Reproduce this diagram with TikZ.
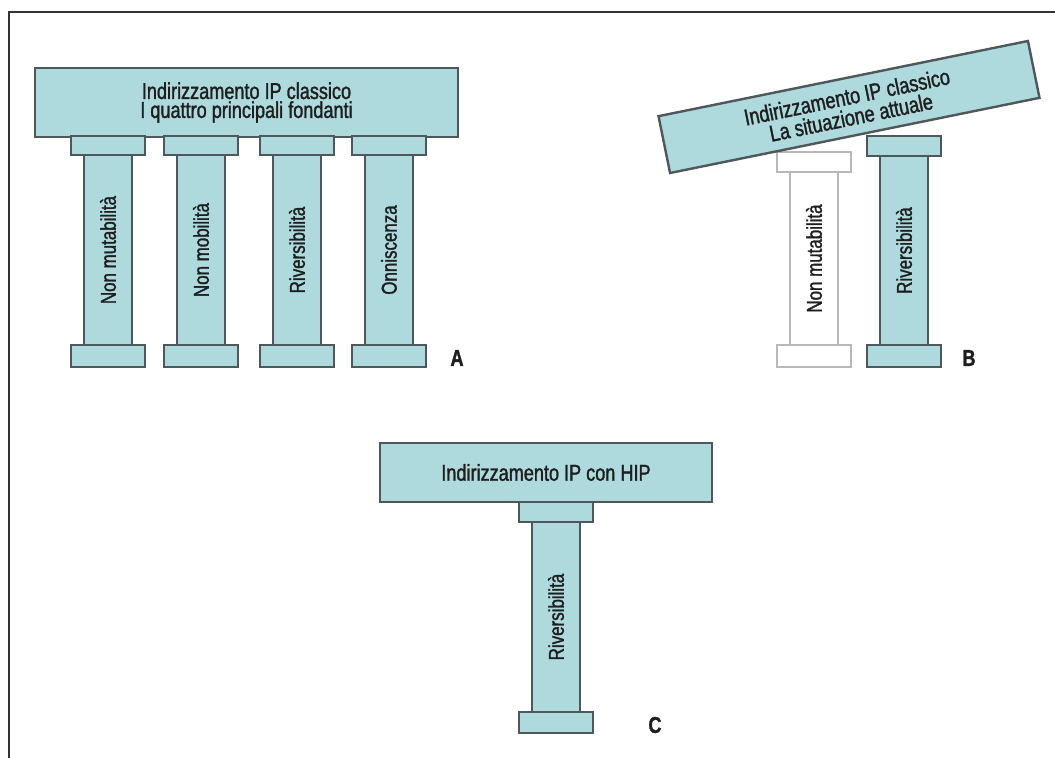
\documentclass[tikz,border=0pt]{standalone}
\usepackage{fontspec}
\setmainfont{Liberation Sans}[FakeStretch=0.79,FakeBold=1.4]
\usepackage{graphicx}
\usetikzlibrary{positioning}
\definecolor{pillar}{HTML}{AEDADE}
\definecolor{edge}{HTML}{4E5759}
\definecolor{ghost}{HTML}{B8B8B8}
\definecolor{ink}{HTML}{1E1E1E}

\begin{document}
\begin{tikzpicture}[x=1bp,y=-1bp,
  font=\fontsize{23}{19}\selectfont,text=ink,
  block/.style={draw=edge,fill=pillar,line width=2.4bp,inner sep=0pt,outer sep=0pt},
  beam/.style={block,minimum height=69bp,align=center},
  capital/.style={block,minimum width=74bp,minimum height=19bp},
  shaft/.style={block,minimum width=48bp,minimum height=190bp,
                font=\fontsize{21.5}{21.5}\selectfont},
  plinth/.style={block,minimum width=74bp,minimum height=22bp},
  faded/.style={draw=ghost,fill=white,line width=2bp},
  tag/.style={font=\fontsize{23}{23}\selectfont\bfseries}]
\useasboundingbox (0,0) rectangle (1055,758);
% open frame
\draw[black!80,line width=1.5bp] (9,758) -- (9,12) -- (1055,12);

% A: the four pillars
\node[beam,minimum width=423bp] (beamA) at (246.5,102.5)
  {Indirizzamento IP classico\\I quattro principali fondanti};
\foreach \x/\name/\txt in {108/a1/Non mutabilità,201/a2/Non mobilità,
                           297/a3/Riversibilità,389/a4/Onniscenza}{
  \node[shaft] (\name) at (\x,250) {\rotatebox{90}{\txt}};
  \node[capital,above=0pt of \name] (\name-top) {};
  \node[plinth,below=0pt of \name] (\name-foot) {};
}
\node[tag] (tagA) at (457,358) {A};

% B: one pillar gone, the beam tilts
\node[shaft,faded,minimum height=173bp] (b1) at (814,258.5) {\rotatebox{90}{Non mutabilità}};
\node[capital,faded,minimum height=20bp,above=0pt of b1] (b1-top) {};
\node[plinth,faded,below=0pt of b1] (b1-foot) {};
\node[shaft,minimum height=189bp] (b2) at (904,250.5) {\rotatebox{90}{Riversibilità}};
\node[capital,minimum height=20bp,above=0pt of b2] (b2-top) {};
\node[plinth,below=0pt of b2] (b2-foot) {};
\node[beam,minimum width=377bp,minimum height=58bp,rotate=11.5,
      font=\fontsize{23}{21}\selectfont] (beamB) at (849,107)
  {Indirizzamento IP classico\\La situazione attuale};
\node[tag] (tagB) at (969,358) {B};

% C: HIP keeps a single pillar
\node[beam,minimum width=332bp,minimum height=59bp] (beamC) at (546,472.5)
  {Indirizzamento IP con HIP};
\node[shaft] (c1) at (556,617) {\rotatebox{90}{Riversibilità}};
\node[capital,minimum height=20bp,above=0pt of c1] (c1-top) {};
\node[plinth,minimum height=21bp,below=0pt of c1] (c1-foot) {};
\node[tag] (tagC) at (655,725) {C};
\end{tikzpicture}
\end{document}
